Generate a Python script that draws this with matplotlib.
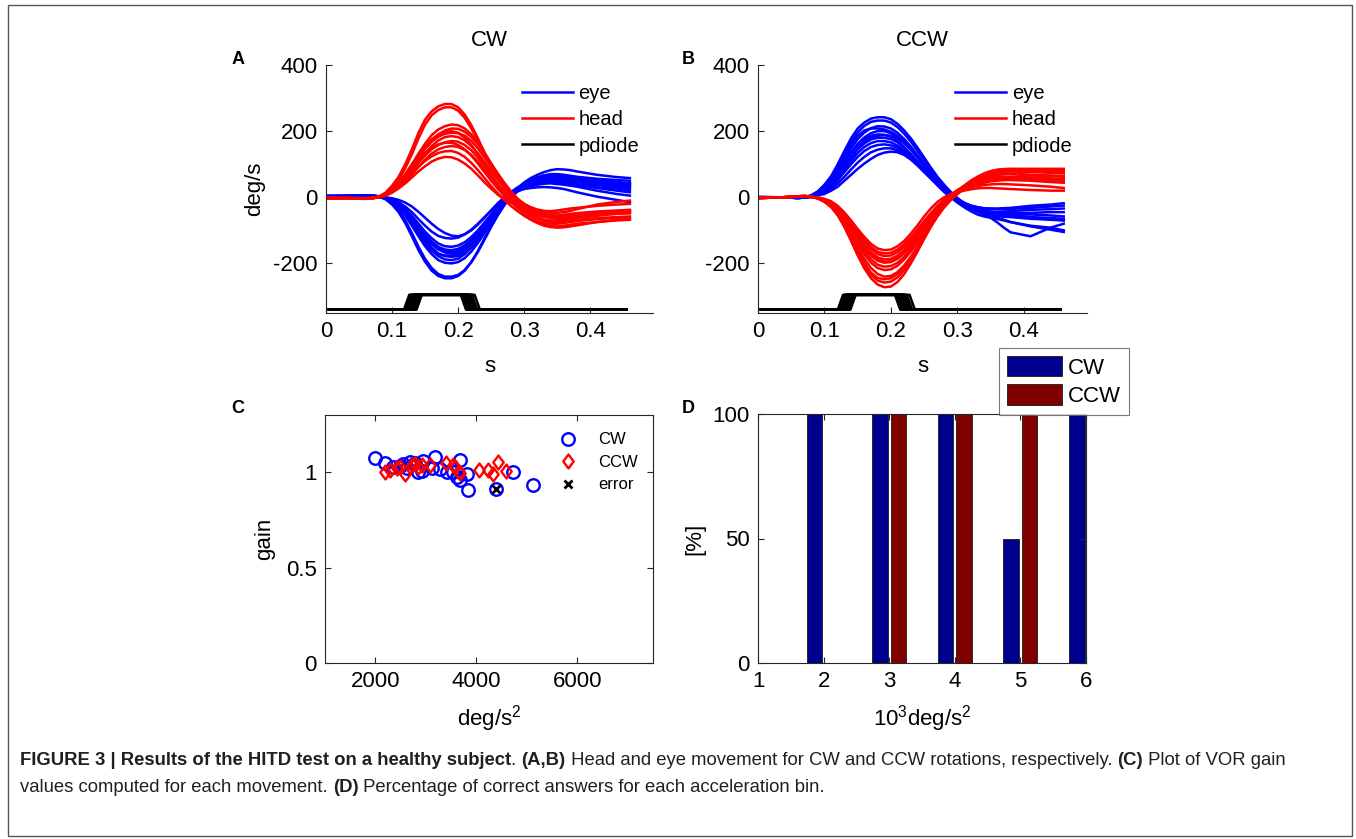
import numpy as np
import matplotlib
matplotlib.use("Agg")
import matplotlib.pyplot as plt
from matplotlib.patches import Rectangle
from matplotlib.path import Path

plt.rcParams['font.family'] = ['Liberation Sans', 'DejaVu Sans']
plt.rcParams['mathtext.fontset'] = 'custom'
plt.rcParams['mathtext.rm'] = 'Liberation Sans'
plt.rcParams['mathtext.it'] = 'Liberation Sans:italic'
plt.rcParams['mathtext.bf'] = 'Liberation Sans:bold'
plt.rcParams['axes.unicode_minus'] = False

# ---------------- data ----------------
t_samples = [0.00, 0.03,
             0.06, 0.07, 0.08, 0.09, 0.10, 0.11, 0.12, 0.13, 0.14, 0.15, 0.16,
             0.17, 0.18, 0.19, 0.20, 0.21, 0.22, 0.23, 0.24, 0.25, 0.26, 0.27,
             0.28, 0.29, 0.30, 0.31, 0.32, 0.33, 0.34, 0.35, 0.36, 0.37, 0.38,
             0.41, 0.44, 0.46]

# Panel A (CW): head velocity traces (deg/s)
cw_head = [
    [-3,-4, -5,-3,2,14,35,62,100,145,195,235,260,275,282,282,272,250,218,178,135,95,60,30,6,-15,-32,-45,-55,-60,-62,-62,-60,-58,-56, -50,-46,-45],
    [-2,-3, -4,-3,1,10,28,52,88,130,178,220,248,264,272,272,262,240,208,170,130,92,58,28,2,-20,-38,-52,-62,-68,-70,-70,-68,-65,-62, -56,-50,-48],
    [-2,-2, -3,-2,2,10,24,44,70,100,132,162,188,205,215,220,218,208,190,165,135,102,70,40,14,-8,-25,-38,-48,-55,-58,-58,-56,-52,-50, -45,-42,-40],
    [-3,-3, -4,-3,0,6,18,35,58,86,118,148,172,190,202,208,207,198,182,160,132,102,72,44,18,-4,-20,-33,-43,-50,-54,-55,-54,-52,-50, -47,-44,-42],
    [-2,-3, -3,-2,2,9,24,43,68,96,126,153,175,190,198,200,195,180,158,130,98,66,36,10,-12,-32,-48,-62,-72,-78,-80,-80,-78,-75,-72, -66,-62,-60],
    [-3,-3, -4,-3,0,6,16,32,52,78,106,132,155,172,182,185,182,172,155,133,106,78,52,28,8,-8,-20,-30,-37,-41,-42,-40,-37,-34,-32, -26,-22,-20],
    [-2,-2, -3,-2,1,8,20,36,56,80,104,126,145,158,166,170,168,158,142,120,94,66,40,16,-6,-25,-40,-54,-64,-71,-74,-75,-73,-70,-68, -63,-60,-58],
    [-3,-3, -3,-3,0,5,14,28,46,68,92,114,132,145,152,155,152,143,128,108,84,60,37,16,-2,-16,-28,-38,-46,-52,-55,-55,-53,-50,-48, -43,-40,-38],
    [-2,-2, -3,-2,2,9,20,35,52,72,92,110,124,134,139,140,134,122,104,82,58,34,12,-8,-26,-42,-56,-68,-78,-86,-90,-92,-91,-88,-85, -75,-68,-65],
    [-3,-3, -4,-3,0,6,15,27,42,60,78,94,108,117,122,121,114,102,86,66,45,26,8,-6,-16,-24,-31,-37,-42,-45,-47,-47,-45,-41,-36, -22,-14,-10],
    [-2,-2, -3,-2,1,8,20,38,60,88,118,146,168,183,192,195,194,186,170,148,120,90,62,36,12,-8,-25,-38,-48,-56,-62,-65,-64,-62,-58, -52,-50,-48],
    [-3,-3, -3,-3,2,10,24,42,64,88,112,134,150,160,165,165,158,145,126,102,76,50,26,4,-15,-32,-48,-62,-74,-82,-87,-88,-86,-83,-80, -75,-70,-68],
]
# Panel A (CW): eye velocity traces (deg/s)
cw_eye = [
    [3,4, 5,4,2,-6,-22,-45,-78,-118,-160,-195,-222,-238,-245,-245,-238,-222,-196,-162,-124,-86,-50,-18,8,28,45,58,68,76,82,85,84,82,78, 68,61,58],
    [4,4, 5,4,2,-4,-18,-40,-70,-108,-150,-186,-214,-232,-240,-240,-235,-220,-196,-165,-128,-90,-55,-24,2,22,38,50,60,66,70,70,68,65,62, 56,52,50],
    [3,3, 4,4,2,-3,-14,-32,-56,-86,-118,-148,-172,-190,-198,-200,-196,-184,-164,-138,-108,-76,-44,-16,8,26,40,52,60,66,68,68,66,63,60, 52,46,42],
    [3,3, 4,4,2,-3,-13,-30,-54,-82,-112,-140,-162,-178,-188,-190,-186,-172,-152,-126,-96,-66,-38,-12,10,26,38,48,55,59,60,60,58,55,52, 46,42,40],
    [4,4, 5,5,3,-2,-10,-24,-44,-70,-100,-128,-152,-170,-178,-180,-178,-168,-152,-130,-104,-76,-48,-22,0,18,30,39,45,49,50,50,48,45,42, 36,31,28],
    [3,3, 4,4,2,-2,-10,-24,-42,-66,-94,-120,-142,-158,-167,-170,-167,-156,-138,-114,-88,-60,-34,-10,10,25,35,43,50,54,55,54,52,50,48, 42,37,34],
    [3,3, 4,4,2,-2,-9,-21,-38,-60,-86,-112,-134,-150,-158,-160,-156,-145,-128,-106,-80,-54,-28,-4,16,30,40,50,58,61,62,62,60,57,55, 48,44,42],
    [4,4, 5,5,3,-1,-8,-19,-35,-56,-80,-104,-124,-140,-148,-150,-146,-136,-120,-100,-76,-52,-30,-10,6,18,26,32,38,41,42,40,38,35,32, 20,10,5],
    [3,3, 4,4,2,-1,-6,-15,-28,-45,-66,-86,-104,-117,-123,-125,-122,-112,-98,-80,-60,-40,-20,-2,14,25,32,37,41,44,45,44,42,40,38, 28,20,15],
    [3,3, 4,4,2,0,-3,-8,-16,-28,-44,-62,-80,-96,-108,-116,-118,-112,-100,-82,-62,-40,-18,0,12,20,25,28,30,31,30,28,25,20,15, 2,-8,-15],
    [3,4, 4,4,2,-3,-12,-28,-50,-78,-108,-136,-158,-172,-176,-176,-172,-160,-142,-118,-90,-62,-34,-10,10,24,35,44,52,56,58,57,55,52,50, 42,38,35],
    [4,4, 5,5,3,-2,-9,-22,-40,-64,-92,-118,-140,-155,-163,-165,-162,-152,-136,-114,-88,-62,-36,-12,6,18,28,35,40,44,45,44,42,40,38, 30,26,22],
]
# Panel B (CCW): eye velocity traces (deg/s)
ccw_eye = [
    [0,0, -1,0,6,18,38,64,100,140,178,208,226,238,242,242,236,222,202,178,150,120,90,62,38,16,-2,-18,-30,-40,-46,-50,-52,-54,-55, -60,-63,-65],
    [0,0, -1,0,5,16,34,58,92,130,166,196,216,228,232,232,226,212,192,168,140,112,84,58,34,14,-4,-20,-32,-42,-50,-56,-62,-68,-75, -86,-92,-100],
    [0,0, -2,-1,4,13,28,50,80,114,148,176,196,209,215,214,208,195,176,153,127,100,74,50,28,9,-8,-22,-34,-44,-50,-54,-57,-59,-60, -65,-68,-70],
    [0,0, -2,-1,3,11,25,45,72,104,136,162,181,194,200,200,194,182,165,144,120,95,70,47,26,8,-8,-20,-30,-38,-42,-45,-47,-48,-48, -47,-45,-45],
    [1,0, -2,-1,4,14,30,50,76,106,134,158,175,186,190,189,183,170,152,130,106,82,58,36,16,0,-16,-30,-42,-52,-58,-62,-66,-70,-75, -88,-98,-105],
    [0,0, -2,-1,3,10,22,40,64,92,120,145,163,175,180,180,176,166,150,130,108,85,62,42,24,8,-6,-16,-25,-30,-34,-35,-36,-36,-35, -32,-28,-25],
    [0,0, -2,-1,2,9,20,36,58,84,110,134,152,164,170,170,166,156,142,124,104,82,60,40,22,6,-8,-20,-32,-42,-52,-62,-76,-92,-106, -118,-92,-80],
    [0,0, -1,-1,2,8,18,32,52,76,100,122,140,152,158,160,157,149,136,119,100,80,60,42,24,8,-6,-18,-28,-36,-41,-44,-46,-48,-49, -52,-55,-58],
    [1,0, -2,-1,2,7,14,26,42,62,84,105,122,136,144,148,148,142,131,116,98,78,58,40,22,6,-8,-18,-25,-30,-33,-34,-34,-33,-32, -26,-22,-18],
    [0,0, -2,-1,1,5,10,20,32,50,68,86,102,116,128,135,138,136,128,114,96,76,56,37,18,0,-14,-25,-34,-40,-44,-46,-48,-50,-52, -60,-66,-70],
    [0,0, -2,-1,5,16,34,58,90,126,160,186,202,208,208,205,198,186,168,146,122,97,72,49,28,10,-6,-20,-32,-42,-48,-52,-55,-57,-58, -62,-66,-68],
    [0,0, -2,-1,3,11,24,42,66,94,122,148,167,180,186,188,186,178,163,144,122,99,76,54,33,14,-4,-18,-28,-36,-40,-43,-44,-43,-42, -38,-36,-34],
]
# Panel B (CCW): head velocity traces (deg/s)
ccw_head = [
    [-2,-1, 3,4,2,-4,-14,-30,-55,-90,-132,-176,-215,-245,-264,-272,-270,-256,-232,-200,-164,-126,-90,-58,-30,-8,10,28,44,58,70,78,83,85,85, 84,83,82],
    [-2,-1, 3,4,2,-3,-12,-28,-52,-86,-126,-168,-205,-234,-252,-258,-255,-242,-220,-190,-156,-120,-86,-55,-28,-6,12,28,42,54,64,72,77,80,80, 80,80,78],
    [-2,-1, 3,4,2,-3,-12,-26,-48,-78,-115,-152,-186,-214,-232,-240,-238,-226,-206,-180,-150,-117,-85,-56,-30,-8,10,25,38,50,58,64,68,70,70, 66,64,62],
    [-2,-1, 2,3,1,-3,-11,-24,-44,-72,-106,-140,-172,-198,-214,-220,-218,-207,-188,-164,-136,-106,-76,-48,-24,-4,12,26,38,49,58,64,68,70,72, 68,66,64],
    [-2,-1, 2,3,1,-3,-10,-22,-40,-66,-98,-132,-162,-188,-204,-210,-208,-198,-180,-156,-128,-98,-68,-40,-16,4,20,34,46,56,64,70,74,77,78, 76,74,72],
    [-2,-1, 3,3,1,-2,-9,-20,-38,-62,-92,-124,-153,-177,-192,-198,-196,-186,-169,-146,-120,-92,-64,-38,-16,2,14,24,32,38,44,48,50,52,52, 50,46,44],
    [-2,-1, 2,3,1,-2,-8,-18,-35,-58,-86,-116,-144,-167,-182,-188,-186,-176,-160,-138,-113,-86,-60,-36,-14,4,18,30,40,48,54,58,60,62,62, 60,57,55],
    [-2,-1, 3,3,1,-2,-7,-16,-32,-54,-80,-108,-135,-157,-172,-178,-176,-166,-150,-129,-104,-78,-52,-28,-8,8,22,32,40,48,54,58,60,60,60, 58,56,54],
    [-2,-1, 2,3,1,-1,-6,-14,-29,-50,-75,-102,-128,-150,-165,-170,-168,-158,-142,-121,-97,-72,-48,-26,-8,6,16,24,30,34,37,39,40,40,39, 36,32,28],
    [-2,-1, 3,3,1,-1,-5,-12,-26,-46,-70,-96,-120,-141,-155,-160,-158,-148,-132,-110,-85,-58,-34,-14,0,10,16,20,24,27,28,28,27,26,25, 22,20,20],
    [-2,-1, 3,4,2,-3,-13,-28,-50,-82,-120,-160,-198,-228,-244,-248,-245,-232,-210,-181,-148,-112,-78,-46,-18,4,20,35,50,62,72,79,83,85,86, 86,86,86],
    [-2,-1, 2,3,1,-2,-8,-19,-37,-60,-89,-120,-149,-172,-188,-195,-193,-183,-166,-143,-117,-89,-62,-38,-17,0,14,26,36,44,50,53,55,56,56, 54,52,50],
]

# photodiode pulses (onset / offset times, s) and levels (plot units)
pd_low, pd_high, pd_ramp, pd_end = -340, -295, 0.008, 0.455
cw_pd_on = [0.118, 0.120, 0.122, 0.124, 0.126, 0.128, 0.130, 0.132, 0.134, 0.137]
cw_pd_off = [0.204, 0.207, 0.209, 0.211, 0.213, 0.215, 0.217, 0.219, 0.221, 0.225]
ccw_pd_on = [0.120, 0.122, 0.124, 0.126, 0.128, 0.130, 0.132, 0.134, 0.136, 0.139]
ccw_pd_off = [0.206, 0.209, 0.211, 0.213, 0.215, 0.217, 0.219, 0.221, 0.224, 0.228]

# panel C: VOR gain vs head acceleration
cw_acc = [2000, 2190, 2354, 2486, 2552, 2620, 2684, 2780, 2850, 2916, 2948, 3114, 3180,
          3279, 3411, 3543, 3610, 3676, 3675, 3808, 3840, 4389, 4732, 5116]
cw_gain = [1.075, 1.047, 1.030, 1.031, 1.042, 1.020, 1.054, 1.050, 1.002, 1.008, 1.060,
           1.024, 1.080, 1.018, 1.000, 1.000, 0.976, 0.960, 1.064, 0.990, 0.907, 0.910,
           1.000, 0.935]
ccw_acc = [2190, 2288, 2420, 2486, 2585, 2717, 2783, 2850, 2916, 3081, 3398, 3543, 3576,
           3662, 3676, 4058, 4224, 4323, 4422, 4587]
ccw_gain = [1.002, 1.010, 1.020, 1.028, 0.993, 1.037, 1.045, 1.028, 1.037, 1.037, 1.049,
            1.037, 1.028, 1.002, 0.996, 1.014, 1.014, 0.993, 1.054, 1.007]
err_acc = [4389]
err_gain = [0.910]

# panel D: percentage of correct answers per acceleration bin
bins = [1, 2, 3, 4, 5, 6]
cw_pct = [0, 100, 100, 100, 50, 100]
ccw_pct = [0, 0, 100, 100, 100, 0]

# ---------------- figure ----------------
W, H = 1356, 839
fig = plt.figure(figsize=(W / 100, H / 100), dpi=100)
fig.patch.set_facecolor('white')

def fpos(x0, y0, x1, y1):
    return [x0 / W, 1 - y1 / H, (x1 - x0) / W, (y1 - y0) / H]

SPC = '#262626'
TFS = 16

def style(ax, box):
    for s in ax.spines.values():
        s.set_color(SPC)
        s.set_linewidth(0.8)
    if not box:
        ax.spines['top'].set_visible(False)
        ax.spines['right'].set_visible(False)
        ax.tick_params(direction='in', length=4, width=0.8, color=SPC,
                       labelsize=TFS, pad=6)
    else:
        ax.tick_params(direction='in', length=4, width=0.8, color=SPC,
                       labelsize=TFS, pad=6, top=True, right=True)

t = np.array(t_samples)

def trace_panel(ax, eyes, heads, pd_on, pd_off, title):
    for c in eyes:
        ax.plot(t, c, color='#0000ff', lw=1.8, solid_joinstyle='round')
    for c in heads:
        ax.plot(t, c, color='#ff0000', lw=1.8, solid_joinstyle='round')
    for on, off in zip(pd_on, pd_off):
        ax.plot([0, on, on + pd_ramp, off, off + pd_ramp, pd_end],
                [pd_low, pd_low, pd_high, pd_high, pd_low, pd_low], color='black', lw=1.8)
    ax.plot([], [], color='#0000ff', lw=1.8, label='eye')
    ax.plot([], [], color='#ff0000', lw=1.8, label='head')
    ax.plot([], [], color='black', lw=1.8, label='pdiode')
    ax.set_xlim(0, 0.495)
    ax.set_ylim(-350, 400)
    ax.set_xticks([0, 0.1, 0.2, 0.3, 0.4])
    ax.set_xticklabels(['0', '0.1', '0.2', '0.3', '0.4'])
    ax.set_yticks([-200, 0, 200, 400])
    ax.set_title(title, fontsize=TFS, pad=14)
    ax.set_xlabel('s', fontsize=TFS, labelpad=10)
    style(ax, False)
    h, l = ax.get_legend_handles_labels()
    ax.legend(h[-3:], l[-3:], loc='upper left', bbox_to_anchor=(0.60, 0.925),
              frameon=False, fontsize=14.5, handlelength=2.5, handletextpad=0.3,
              labelspacing=0.37, borderpad=0, borderaxespad=0)

axA = fig.add_axes(fpos(326, 65, 653, 313))
trace_panel(axA, cw_eye, cw_head, cw_pd_on, cw_pd_off, 'CW')
axA.set_ylabel('deg/s', fontsize=TFS)
axA.yaxis.set_label_coords(-0.185, 0.5)

axB = fig.add_axes(fpos(758, 65, 1087, 313))
trace_panel(axB, ccw_eye, ccw_head, ccw_pd_on, ccw_pd_off, 'CCW')

# panel C
diamond = Path([(0, -1), (0.75, 0), (0, 1), (-0.75, 0), (0, -1)],
               [Path.MOVETO, Path.LINETO, Path.LINETO, Path.LINETO, Path.CLOSEPOLY])
axC = fig.add_axes(fpos(325, 415, 653, 663))
axC.plot(cw_acc, cw_gain, 'o', ls='none', mfc='none', mec='#0000ff', ms=9, mew=1.7, label='CW')
axC.plot(ccw_acc, ccw_gain, marker=diamond, ls='none', mfc='none', mec='#ff0000', ms=10,
         mew=1.7, label='CCW')
axC.plot(err_acc, err_gain, 'x', ls='none', color='black', ms=6, mew=2.0, label='error')
axC.set_xlim(1000, 7500)
axC.set_ylim(0, 1.3)
axC.set_xticks([2000, 4000, 6000])
axC.set_yticks([0, 0.5, 1])
axC.set_yticklabels(['0', '0.5', '1'])
axC.set_xlabel('deg/s$^{\\mathregular{2}}$', fontsize=TFS, labelpad=8)
axC.set_ylabel('gain', fontsize=TFS)
axC.yaxis.set_label_coords(-0.152, 0.5)
style(axC, True)
axC.legend(loc='upper left', bbox_to_anchor=(0.70, 0.93), frameon=False, fontsize=12,
           handlelength=1.6, handletextpad=1.0, labelspacing=0.45, borderpad=0,
           borderaxespad=0)

# panel D
axD = fig.add_axes(fpos(758, 414, 1086, 663))
b = np.array(bins)
axD.bar(b - 0.14, cw_pct, width=0.24, color='#00008f', edgecolor='#1a1a1a', lw=0.6, label='CW')
axD.bar(b + 0.14, ccw_pct, width=0.24, color='#800000', edgecolor='#1a1a1a', lw=0.6, label='CCW')
axD.set_xlim(1, 6)
axD.set_ylim(0, 100)
axD.set_xticks(bins)
axD.set_yticks([0, 50, 100])
axD.set_xlabel('10$^{\\mathregular{3}}$deg/s$^{\\mathregular{2}}$', fontsize=TFS, labelpad=8)
axD.set_ylabel('[%]', fontsize=TFS)
axD.yaxis.set_label_coords(-0.16, 0.5)
style(axD, True)
leg = axD.legend(loc='upper left', bbox_to_anchor=(999 / W, 1 - 348 / H),
                 bbox_transform=fig.transFigure, fontsize=16, frameon=True, fancybox=False,
                 edgecolor='#555555', handlelength=2.5, handleheight=1.05,
                 handletextpad=0.25, labelspacing=0.25, borderpad=0.35, borderaxespad=0)
leg.get_frame().set_linewidth(0.8)

# panel letters
for ch, x, y in [('A', 238, 60), ('B', 688, 60), ('C', 238, 409), ('D', 688, 409)]:
    fig.text(x / W, 1 - y / H, ch, fontsize=13, fontweight='bold', ha='center', va='center')

# outer frame
fig.add_artist(Rectangle((8 / W, 1 - 836 / H), 1344 / W, 831 / H, transform=fig.transFigure,
                         fill=False, edgecolor='#555555', lw=1.0))

# caption
cap_family = ['Liberation Sans Narrow', 'Liberation Sans', 'DejaVu Sans']
cap_fs = 12.0
line1 = [("FIGURE 3 | Results of the HITD test on a healthy subject", True), (". ", False),
         ("(A,B)", True), (" Head and eye movement for CW and CCW rotations, respectively. ", False),
         ("(C)", True), (" Plot of VOR gain", False)]
line2 = [("values computed for each movement. ", False), ("(D)", True),
         (" Percentage of correct answers for each acceleration bin.", False)]

fig.canvas.draw()
renderer = fig.canvas.get_renderer()

def seg_width(s, bold, fs):
    a = fig.text(0, 0, 'X' + s + 'X', fontsize=fs, family=cap_family,
                 fontweight='bold' if bold else 'normal')
    bb = fig.text(0, 0, 'XX', fontsize=fs, family=cap_family,
                  fontweight='bold' if bold else 'normal')
    w = a.get_window_extent(renderer).width - bb.get_window_extent(renderer).width
    a.remove(); bb.remove()
    return w

target = 1292 - 20
w1 = sum(seg_width(s, bd, cap_fs) for s, bd in line1)
cap_fs = cap_fs * target / w1

def draw_line(segs, y):
    x = 20.0
    for s, bd in segs:
        fig.text(x / W, 1 - y / H, s, fontsize=cap_fs, family=cap_family,
                 fontweight='bold' if bd else 'normal', va='baseline', ha='left',
                 color='#231f20')
        x += seg_width(s, bd, cap_fs)

draw_line(line1, 765)
draw_line(line2, 792)

fig.savefig('out.png', dpi=100, facecolor='white')
